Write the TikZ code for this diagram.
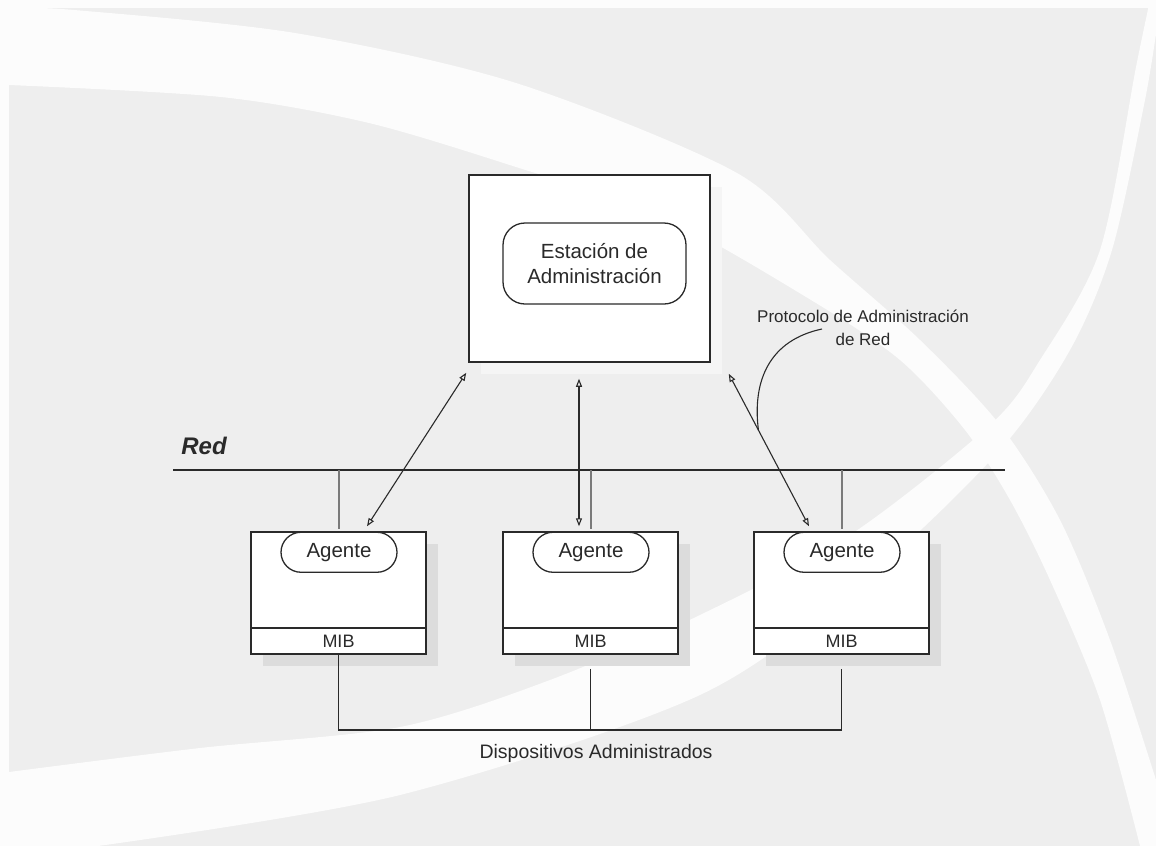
\documentclass[tikz,border=0pt]{standalone}
\usepackage{fontspec}
\setmainfont{Liberation Sans}
\usetikzlibrary{arrows.meta,calc,shadows}

\definecolor{bggray}{HTML}{EEEEEE}
\definecolor{swoosh}{HTML}{FCFCFC}
\definecolor{ink}{HTML}{2A2A2A}
\definecolor{shade}{HTML}{DCDCDC}
\definecolor{softshade}{HTML}{F5F5F5}
\definecolor{dropgray}{HTML}{7A7A7A}

\begin{document}
\begin{tikzpicture}[x=1pt,y=-1pt,
  frame/.style={draw=ink, line width=1.5pt, fill=white, inner sep=0pt},
  devbox/.style={frame, minimum width=175pt, minimum height=122pt,
    drop shadow={shadow xshift=12pt, shadow yshift=-12pt, fill=shade, opacity=1}},
  pill/.style={draw=ink, line width=1.3pt, fill=white, inner sep=0pt,
    rounded corners=20pt, minimum width=116pt, minimum height=40pt,
    text=ink, font=\fontsize{20.5}{25}\selectfont},
  label/.style={text=ink, inner sep=0pt},
  link/.style={draw=ink, line width=1.5pt},
  drop/.style={draw=dropgray, line width=2pt},
  dblarrow/.style={draw=ink, line width=1.1pt,
    {Triangle[open,length=8pt,width=6pt]}-{Triangle[open,length=8pt,width=6pt]}},
]
\useasboundingbox (0,0) rectangle (1156,846);

% background with two crossing white swooshes
\fill[swoosh] (0,0) rectangle (1156,846);
\fill[bggray] (9,8) rectangle (1156,846);
\fill[swoosh] (9,8) -- plot[smooth] coordinates {(9,8) (74,10) (295,33) (516,83) (737,173) (830,260) (920,340) (1000,425) (1060,520) (1110,640) (1156,780)}
  -- (1156,846) -- plot[smooth] coordinates {(1140,846) (1100,700) (1050,580) (1010,500) (965,430) (900,360) (811,300) (664,217) (516,167) (369,123) (221,97) (9,85)} -- cycle;
\fill[swoosh] (1150,0) -- plot[smooth] coordinates {(1150,0) (1136,67) (1100,250) (1040,360) (990,425) (850,535) (700,615) (550,680) (400,727) (200,748) (9,772)}
  -- (9,846) -- plot[smooth] coordinates {(98,846) (400,795) (700,695) (870,575) (1000,450) (1070,350) (1112,250) (1145,100) (1158,20)} -- (1158,0) -- cycle;

% management station
\node[frame, minimum width=241pt, minimum height=187pt,
  drop shadow={shadow xshift=12pt, shadow yshift=-12pt, fill=softshade, opacity=1}]
  (station) at (589.5,268.5) {};
\node[pill, minimum width=183pt, minimum height=81pt, rounded corners=22pt, align=center]
  (est) at (594.5,263.5) {Estación de\\Administración};

% network bus
\node[label, font=\bfseries\itshape\fontsize{24}{28}\selectfont] (red) at (204,446) {Red};
\coordinate (busW) at (173,470);
\coordinate (busE) at (1005,470);
\coordinate (busL) at (307,470);
\coordinate (busR) at (862,470);
\draw[draw=ink, line width=1.4pt] (busW) -- (busE);
\draw[draw=ink, line width=2pt] (busL) -- (busR);

% managed devices
\foreach \n/\x in {devA/338.5, devB/590.5, devC/841.5}{
  \node[devbox] (\n) at (\x,593) {};
  \draw[link] ($(\n.south west)+(0,-27)$) -- ($(\n.south east)+(0,-27)$);
  \node[label, font=\fontsize{18}{22}\selectfont] (\n-mib) at ($(\n.south)+(0,-13.5)$) {MIB};
  \node[pill] (\n-ag) at ($(\n.north)+(0.5,21)$) {Agente};
  \draw[drop] (\n.north |- busW) -- ($(\n.north)+(0,-2)$);
}

% protocol exchanges
\coordinate (aLtop) at ($(station.south west)+(-2,10)$);
\coordinate (aLbot) at ($(devA.north)+(28.5,-5)$);
\coordinate (aMtop) at ($(station.south)+(-10.5,16)$);
\coordinate (aMbot) at ($(devB.north)+(-11.5,-5)$);
\coordinate (aRtop) at ($(station.south east)+(18,11)$);
\coordinate (aRbot) at ($(devC.north)+(-32.5,-5)$);
\draw[dblarrow] (aLtop) -- (aLbot);
\draw[dblarrow] (aMtop) -- (aMbot);
\draw[dblarrow] (aRtop) -- (aRbot);

\node[label, align=center, font=\fontsize{17}{23}\selectfont] (proto) at (863,328)
  {Protocolo de Administración\\de Red};
\coordinate (pc1) at (822,329);
\coordinate (pc2) at ($(aRtop)!0.37!(aRbot)$);
\draw[draw=ink, line width=1.1pt] (pc1) .. controls (770,340) and (752,380) .. (pc2);

% devices joined below
\coordinate (botbus) at (0,730);
\draw[link] (devA.south) -- (devA.south |- botbus) -| ($(devC.south)+(0,14)$);
\draw[link] ($(devB.south)+(0,14)$) -- (devB.south |- botbus);
\node[label, font=\fontsize{19.5}{24}\selectfont] (devlabel) at (596,753) {Dispositivos Administrados};
\end{tikzpicture}
\end{document}
